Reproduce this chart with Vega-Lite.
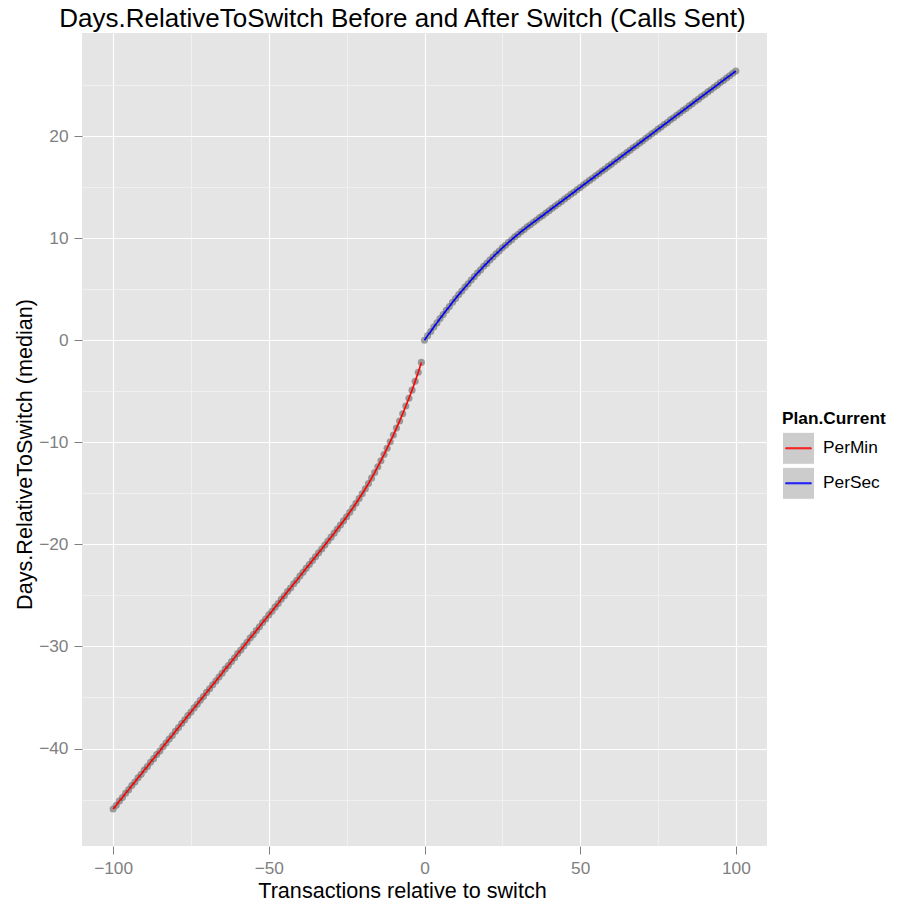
{
"$schema": "https://vega.github.io/schema/vega-lite/v6.json",
"width": 685, "height": 813,
"autosize": {"type": "none"},
"padding": {"left": 82, "top": 33, "right": 134, "bottom": 59},
"background": "white",
"config": {"view": {"fill": "#E5E5E5", "stroke": null}, "font": "Liberation Sans"},
"title": {"text": "Days.RelativeToSwitch Before and After Switch (Calls Sent)", "fontSize": 26, "font": "Liberation Sans", "fontWeight": "normal", "color": "black", "anchor": "middle", "dx": -22, "dy": 25, "baseline": "alphabetic", "offset": 5},
"data": {"values": [
{"x":-100,"days":-45.92,"plan":"PerMin"},{"x":-99,"days":-45.55,"plan":"PerMin"},{"x":-98,"days":-45.14,"plan":"PerMin"},{"x":-97,"days":-44.80,"plan":"PerMin"},{"x":-96,"days":-44.38,"plan":"PerMin"},
{"x":-95,"days":-44.03,"plan":"PerMin"},{"x":-94,"days":-43.62,"plan":"PerMin"},{"x":-93,"days":-43.28,"plan":"PerMin"},{"x":-92,"days":-42.86,"plan":"PerMin"},{"x":-91,"days":-42.52,"plan":"PerMin"},
{"x":-90,"days":-42.10,"plan":"PerMin"},{"x":-89,"days":-41.76,"plan":"PerMin"},{"x":-88,"days":-41.35,"plan":"PerMin"},{"x":-87,"days":-40.99,"plan":"PerMin"},{"x":-86,"days":-40.58,"plan":"PerMin"},
{"x":-85,"days":-40.24,"plan":"PerMin"},{"x":-84,"days":-39.82,"plan":"PerMin"},{"x":-83,"days":-39.47,"plan":"PerMin"},{"x":-82,"days":-39.06,"plan":"PerMin"},{"x":-81,"days":-38.72,"plan":"PerMin"},
{"x":-80,"days":-38.30,"plan":"PerMin"},{"x":-79,"days":-37.95,"plan":"PerMin"},{"x":-78,"days":-37.55,"plan":"PerMin"},{"x":-77,"days":-37.19,"plan":"PerMin"},{"x":-76,"days":-36.78,"plan":"PerMin"},
{"x":-75,"days":-36.43,"plan":"PerMin"},{"x":-74,"days":-36.02,"plan":"PerMin"},{"x":-73,"days":-35.67,"plan":"PerMin"},{"x":-72,"days":-35.27,"plan":"PerMin"},{"x":-71,"days":-34.90,"plan":"PerMin"},
{"x":-70,"days":-34.50,"plan":"PerMin"},{"x":-69,"days":-34.15,"plan":"PerMin"},{"x":-68,"days":-33.75,"plan":"PerMin"},{"x":-67,"days":-33.39,"plan":"PerMin"},{"x":-66,"days":-32.99,"plan":"PerMin"},
{"x":-65,"days":-32.63,"plan":"PerMin"},{"x":-64,"days":-32.22,"plan":"PerMin"},{"x":-63,"days":-31.87,"plan":"PerMin"},{"x":-62,"days":-31.47,"plan":"PerMin"},{"x":-61,"days":-31.11,"plan":"PerMin"},
{"x":-60,"days":-30.70,"plan":"PerMin"},{"x":-59,"days":-30.35,"plan":"PerMin"},{"x":-58,"days":-29.95,"plan":"PerMin"},{"x":-57,"days":-29.59,"plan":"PerMin"},{"x":-56,"days":-29.18,"plan":"PerMin"},
{"x":-55,"days":-28.84,"plan":"PerMin"},{"x":-54,"days":-28.43,"plan":"PerMin"},{"x":-53,"days":-28.07,"plan":"PerMin"},{"x":-52,"days":-27.66,"plan":"PerMin"},{"x":-51,"days":-27.31,"plan":"PerMin"},
{"x":-50,"days":-26.91,"plan":"PerMin"},{"x":-49,"days":-26.55,"plan":"PerMin"},{"x":-48,"days":-26.15,"plan":"PerMin"},{"x":-47,"days":-25.79,"plan":"PerMin"},{"x":-46,"days":-25.38,"plan":"PerMin"},
{"x":-45,"days":-25.03,"plan":"PerMin"},{"x":-44,"days":-24.62,"plan":"PerMin"},{"x":-43,"days":-24.27,"plan":"PerMin"},{"x":-42,"days":-23.86,"plan":"PerMin"},{"x":-41,"days":-23.51,"plan":"PerMin"},
{"x":-40,"days":-23.11,"plan":"PerMin"},{"x":-39,"days":-22.73,"plan":"PerMin"},{"x":-38,"days":-22.35,"plan":"PerMin"},{"x":-37,"days":-21.97,"plan":"PerMin"},{"x":-36,"days":-21.59,"plan":"PerMin"},
{"x":-35,"days":-21.21,"plan":"PerMin"},{"x":-34,"days":-20.83,"plan":"PerMin"},{"x":-33,"days":-20.45,"plan":"PerMin"},{"x":-32,"days":-20.06,"plan":"PerMin"},{"x":-31,"days":-19.67,"plan":"PerMin"},
{"x":-30,"days":-19.29,"plan":"PerMin"},{"x":-29,"days":-18.90,"plan":"PerMin"},{"x":-28,"days":-18.50,"plan":"PerMin"},{"x":-27,"days":-18.10,"plan":"PerMin"},{"x":-26,"days":-17.70,"plan":"PerMin"},
{"x":-25,"days":-17.29,"plan":"PerMin"},{"x":-24,"days":-16.86,"plan":"PerMin"},{"x":-23,"days":-16.42,"plan":"PerMin"},{"x":-22,"days":-15.97,"plan":"PerMin"},{"x":-21,"days":-15.51,"plan":"PerMin"},
{"x":-20,"days":-15.04,"plan":"PerMin"},{"x":-19,"days":-14.55,"plan":"PerMin"},{"x":-18,"days":-14.04,"plan":"PerMin"},{"x":-17,"days":-13.51,"plan":"PerMin"},{"x":-16,"days":-12.96,"plan":"PerMin"},
{"x":-15,"days":-12.39,"plan":"PerMin"},{"x":-14,"days":-11.80,"plan":"PerMin"},{"x":-13,"days":-11.20,"plan":"PerMin"},{"x":-12,"days":-10.58,"plan":"PerMin"},{"x":-11,"days":-9.94,"plan":"PerMin"},
{"x":-10,"days":-9.29,"plan":"PerMin"},{"x":-9,"days":-8.61,"plan":"PerMin"},{"x":-8,"days":-7.92,"plan":"PerMin"},{"x":-7,"days":-7.20,"plan":"PerMin"},{"x":-6,"days":-6.45,"plan":"PerMin"},
{"x":-5,"days":-5.69,"plan":"PerMin"},{"x":-4,"days":-4.89,"plan":"PerMin"},{"x":-3,"days":-4.03,"plan":"PerMin"},{"x":-2,"days":-3.13,"plan":"PerMin"},{"x":-1,"days":-2.17,"plan":"PerMin"},
{"x":0,"days":0.00,"plan":"PerSec"},{"x":1,"days":0.45,"plan":"PerSec"},{"x":2,"days":0.86,"plan":"PerSec"},{"x":3,"days":1.30,"plan":"PerSec"},{"x":4,"days":1.70,"plan":"PerSec"},
{"x":5,"days":2.13,"plan":"PerSec"},{"x":6,"days":2.52,"plan":"PerSec"},{"x":7,"days":2.94,"plan":"PerSec"},{"x":8,"days":3.31,"plan":"PerSec"},{"x":9,"days":3.72,"plan":"PerSec"},
{"x":10,"days":4.08,"plan":"PerSec"},{"x":11,"days":4.47,"plan":"PerSec"},{"x":12,"days":4.82,"plan":"PerSec"},{"x":13,"days":5.20,"plan":"PerSec"},{"x":14,"days":5.53,"plan":"PerSec"},
{"x":15,"days":5.90,"plan":"PerSec"},{"x":16,"days":6.23,"plan":"PerSec"},{"x":17,"days":6.58,"plan":"PerSec"},{"x":18,"days":6.89,"plan":"PerSec"},{"x":19,"days":7.24,"plan":"PerSec"},
{"x":20,"days":7.53,"plan":"PerSec"},{"x":21,"days":7.86,"plan":"PerSec"},{"x":22,"days":8.15,"plan":"PerSec"},{"x":23,"days":8.47,"plan":"PerSec"},{"x":24,"days":8.74,"plan":"PerSec"},
{"x":25,"days":9.05,"plan":"PerSec"},{"x":26,"days":9.31,"plan":"PerSec"},{"x":27,"days":9.60,"plan":"PerSec"},{"x":28,"days":9.85,"plan":"PerSec"},{"x":29,"days":10.13,"plan":"PerSec"},
{"x":30,"days":10.36,"plan":"PerSec"},{"x":31,"days":10.63,"plan":"PerSec"},{"x":32,"days":10.85,"plan":"PerSec"},{"x":33,"days":11.11,"plan":"PerSec"},{"x":34,"days":11.32,"plan":"PerSec"},
{"x":35,"days":11.56,"plan":"PerSec"},{"x":36,"days":11.77,"plan":"PerSec"},{"x":37,"days":12.02,"plan":"PerSec"},{"x":38,"days":12.22,"plan":"PerSec"},{"x":39,"days":12.47,"plan":"PerSec"},
{"x":40,"days":12.68,"plan":"PerSec"},{"x":41,"days":12.93,"plan":"PerSec"},{"x":42,"days":13.14,"plan":"PerSec"},{"x":43,"days":13.38,"plan":"PerSec"},{"x":44,"days":13.59,"plan":"PerSec"},
{"x":45,"days":13.84,"plan":"PerSec"},{"x":46,"days":14.05,"plan":"PerSec"},{"x":47,"days":14.30,"plan":"PerSec"},{"x":48,"days":14.50,"plan":"PerSec"},{"x":49,"days":14.75,"plan":"PerSec"},
{"x":50,"days":14.96,"plan":"PerSec"},{"x":51,"days":15.21,"plan":"PerSec"},{"x":52,"days":15.42,"plan":"PerSec"},{"x":53,"days":15.66,"plan":"PerSec"},{"x":54,"days":15.87,"plan":"PerSec"},
{"x":55,"days":16.12,"plan":"PerSec"},{"x":56,"days":16.33,"plan":"PerSec"},{"x":57,"days":16.58,"plan":"PerSec"},{"x":58,"days":16.78,"plan":"PerSec"},{"x":59,"days":17.03,"plan":"PerSec"},
{"x":60,"days":17.24,"plan":"PerSec"},{"x":61,"days":17.49,"plan":"PerSec"},{"x":62,"days":17.70,"plan":"PerSec"},{"x":63,"days":17.94,"plan":"PerSec"},{"x":64,"days":18.15,"plan":"PerSec"},
{"x":65,"days":18.40,"plan":"PerSec"},{"x":66,"days":18.61,"plan":"PerSec"},{"x":67,"days":18.86,"plan":"PerSec"},{"x":68,"days":19.06,"plan":"PerSec"},{"x":69,"days":19.31,"plan":"PerSec"},
{"x":70,"days":19.52,"plan":"PerSec"},{"x":71,"days":19.77,"plan":"PerSec"},{"x":72,"days":19.98,"plan":"PerSec"},{"x":73,"days":20.22,"plan":"PerSec"},{"x":74,"days":20.43,"plan":"PerSec"},
{"x":75,"days":20.68,"plan":"PerSec"},{"x":76,"days":20.89,"plan":"PerSec"},{"x":77,"days":21.14,"plan":"PerSec"},{"x":78,"days":21.34,"plan":"PerSec"},{"x":79,"days":21.59,"plan":"PerSec"},
{"x":80,"days":21.80,"plan":"PerSec"},{"x":81,"days":22.05,"plan":"PerSec"},{"x":82,"days":22.26,"plan":"PerSec"},{"x":83,"days":22.50,"plan":"PerSec"},{"x":84,"days":22.71,"plan":"PerSec"},
{"x":85,"days":22.96,"plan":"PerSec"},{"x":86,"days":23.17,"plan":"PerSec"},{"x":87,"days":23.42,"plan":"PerSec"},{"x":88,"days":23.62,"plan":"PerSec"},{"x":89,"days":23.87,"plan":"PerSec"},
{"x":90,"days":24.08,"plan":"PerSec"},{"x":91,"days":24.33,"plan":"PerSec"},{"x":92,"days":24.54,"plan":"PerSec"},{"x":93,"days":24.78,"plan":"PerSec"},{"x":94,"days":24.99,"plan":"PerSec"},
{"x":95,"days":25.24,"plan":"PerSec"},{"x":96,"days":25.45,"plan":"PerSec"},{"x":97,"days":25.70,"plan":"PerSec"},{"x":98,"days":25.90,"plan":"PerSec"},{"x":99,"days":26.15,"plan":"PerSec"},
{"x":100,"days":26.37,"plan":"PerSec"}
]},
"layer": [
{
"mark": {"type": "circle", "size": 50, "opacity": 0.55, "color": "#595959"},
"encoding": {
"x": {"field": "x", "type": "quantitative", "scale": {"domain": [-110, 110], "nice": false, "zero": false},
 "axis": {"orient": "bottom", "values": [-75, -25, 25, 75], "grid": true, "gridColor": "#F2F2F2", "gridWidth": 0.8, "labels": false, "ticks": false, "domain": false, "title": null}},
"y": {"field": "days", "type": "quantitative", "scale": {"domain": [-49.55, 30.1], "nice": false, "zero": false},
 "axis": {"orient": "left", "values": [-45, -35, -25, -15, -5, 5, 15, 25], "grid": true, "gridColor": "#F2F2F2", "gridWidth": 0.8, "labels": false, "ticks": false, "domain": false, "title": null}}
}
},
{
"mark": {"type": "square", "opacity": 0, "size": 1},
"encoding": {
"x": {"field": "x", "type": "quantitative", "axis": null},
"y": {"field": "days", "type": "quantitative", "axis": null},
"fill": {"field": "plan", "type": "nominal", "scale": {"domain": ["PerMin", "PerSec"], "range": ["#CCCCCC", "#CCCCCC"]},
 "legend": {"orient": "none", "legendX": 700, "legendY": 377, "zindex": 1, "title": "Plan.Current", "titleFontSize": 17.3, "titleFontWeight": "bold", "titleColor": "black", "titlePadding": 4.5, "padding": 0, "rowPadding": -4,
  "symbolType": "square", "symbolSize": 1024, "symbolStrokeWidth": 1, "symbolStrokeColor": "#FFFFFF", "symbolOpacity": 1, "labelFontSize": 17.3, "labelColor": "black", "labelOffset": 8}}
}
},
{
"mark": {"type": "line", "strokeWidth": 1.6},
"encoding": {
"x": {"field": "x", "type": "quantitative", "scale": {"domain": [-110, 110], "nice": false, "zero": false},
 "axis": {"orient": "bottom", "values": [-100, -50, 0, 50, 100], "grid": true, "gridColor": "#FFFFFF", "gridWidth": 1.2, "domain": false, "ticks": true, "tickColor": "#7F7F7F", "tickSize": 8, "tickWidth": 1, "labelColor": "#7F7F7F", "labelFontSize": 17.3, "labelPadding": 5, "title": "Transactions relative to switch", "titleFontSize": 21.6, "titleFontWeight": "normal", "titleColor": "black", "titleX": 320, "titleY": 51, "titleBaseline": "alphabetic"}},
"y": {"field": "days", "type": "quantitative", "scale": {"domain": [-49.55, 30.1], "nice": false, "zero": false},
 "axis": {"orient": "left", "values": [-40, -30, -20, -10, 0, 10, 20], "grid": true, "gridColor": "#FFFFFF", "gridWidth": 1.2, "domain": false, "ticks": true, "tickColor": "#7F7F7F", "tickSize": 8, "tickWidth": 1, "labelColor": "#7F7F7F", "labelFontSize": 17.3, "labelPadding": 6, "title": "Days.RelativeToSwitch (median)", "titleFontSize": 21.6, "titleFontWeight": "normal", "titleColor": "black", "titleX": -51, "titleY": 421, "titleBaseline": "alphabetic", "titleAngle": -90}},
"color": {"field": "plan", "type": "nominal", "scale": {"range": ["#FF0000", "#0000FF"]},
 "legend": {"orient": "none", "legendX": 700, "legendY": 377, "zindex": 2, "title": " ", "titleFontSize": 17.3, "titleFontWeight": "bold", "titlePadding": 4.5, "padding": 0, "rowPadding": -4,
  "symbolType": "M-1,-1M1,1M-0.8,-0.03H0.8V0.03H-0.8Z", "symbolSize": 1024, "symbolStrokeWidth": 1, "labelFontSize": 17.3, "labelExpr": "''", "labelOffset": 8}}
}
}
],
"resolve": {"axis": {"x": "independent", "y": "independent"}}
}
